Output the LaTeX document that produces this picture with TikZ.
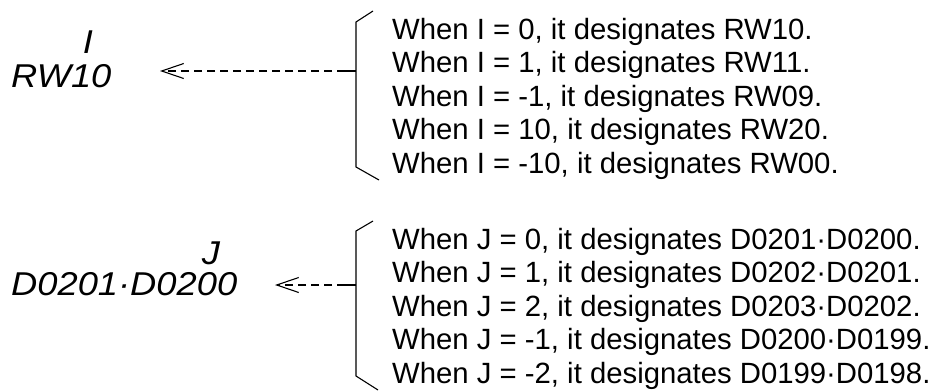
\documentclass[tikz,border=0pt]{standalone}
\usepackage{fontspec}
\setmainfont{Liberation Sans}
\usetikzlibrary{arrows.meta}
\tikzset{
  txt/.style={anchor=base west, inner sep=0pt, font=\fontsize{29.3}{33.5}\selectfont},
  lbl/.style={inner sep=0pt, text depth=0pt, xscale=1.1, font=\fontsize{33}{38}\selectfont\itshape},
  brk/.style={line width=1.1pt, line join=miter},
  conn/.style={line width=1.3pt, dash pattern=on 8pt off 5pt, -{Straight Barb[length=22pt,width=15pt,line width=1.1pt]}}
}
\begin{document}
\begin{tikzpicture}[x=1pt,y=1pt]
\useasboundingbox (0,0) rectangle (933,-391);
% top group
\node[lbl, anchor=base] (I) at (88,-53) {I};
\node[lbl, anchor=base west] (RW) at (11,-87) {RW10};
\node[txt] (t1) at (392,-39) {When I = 0, it designates RW10.};
\node[txt] (t2) at (392,-72.5) {When I = 1, it designates RW11.};
\node[txt] (t3) at (392,-106) {When I = -1, it designates RW09.};
\node[txt] (t4) at (392,-139.5) {When I = 10, it designates RW20.};
\node[txt] (t5) at (392,-173) {When I = -10, it designates RW00.};
\draw[brk] (373,-11) -- (356,-22) -- (356,-167) -- (379,-180);
\coordinate (tm) at (356,-71);
\coordinate (tk) at (345,-71);
\coordinate (ta) at (160,-71);
\draw[brk] (tm) -- (tk);
\draw[conn] (tk) -- (ta);
% bottom group
\node[lbl, anchor=base] (J) at (211,-264) {J};
\node[lbl, anchor=base west] (D) at (11,-295) {D0201·D0200};
\node[txt] (b1) at (392,-249) {When J = 0, it designates D0201·D0200.};
\node[txt] (b2) at (392,-282.5) {When J = 1, it designates D0202·D0201.};
\node[txt] (b3) at (392,-316) {When J = 2, it designates D0203·D0202.};
\node[txt] (b4) at (392,-349.5) {When J = -1, it designates D0200·D0199.};
\node[txt] (b5) at (392,-383) {When J = -2, it designates D0199·D0198.};
\draw[brk] (373,-221) -- (356,-231) -- (356,-376) -- (378,-390);
\coordinate (bm) at (356,-285);
\coordinate (bk) at (345,-285);
\coordinate (ba) at (275,-285);
\draw[brk] (bm) -- (bk);
\draw[conn] (bk) -- (ba);
\end{tikzpicture}
\end{document}
